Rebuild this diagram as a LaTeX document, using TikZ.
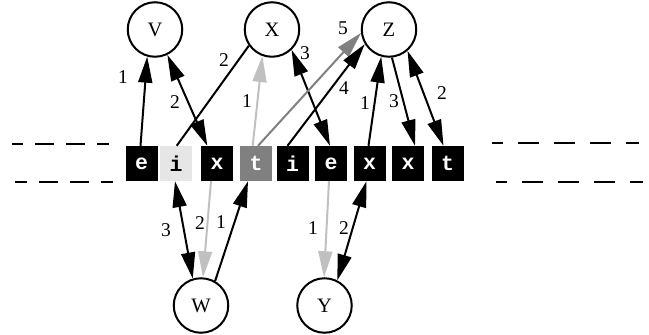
\documentclass[tikz,border=0pt]{standalone}
\usepackage{fontspec}
\setmainfont{Liberation Serif}
\newfontfamily\cellfont{Liberation Mono}
\usetikzlibrary{arrows.meta}
\definecolor{edgelight}{RGB}{192,192,192}
\definecolor{edgemid}{RGB}{128,128,128}
\definecolor{cellpale}{RGB}{230,230,230}
\definecolor{celldim}{RGB}{128,128,128}

\begin{document}
\begin{tikzpicture}[x=1pt,y=-1pt,
  >={Triangle[length=26pt,width=14pt]},
  every node/.style={font=\fontsize{19.5}{19.5}\selectfont},
  var/.style={circle,draw,line width=2pt,minimum size=54.5pt,inner sep=0pt,
    font=\fontsize{20.5}{20.5}\selectfont},
  cell/.style={fill=black,text=white,minimum width=32pt,minimum height=35pt,
    inner sep=0pt,font=\cellfont\bfseries\fontsize{21.5}{21.5}\selectfont},
  pale/.style={cell,fill=cellpale,text=black},
  dim/.style={cell,fill=celldim,text=white},
  lbl/.style={inner sep=0pt},
  link/.style={line width=2pt},
  rule/.style={line width=2pt}]

\useasboundingbox (0,0) rectangle (649,335);

% track boundaries
\draw[rule,dash pattern=on 19pt off 12pt,dash phase=8pt] (12,144) -- (109,144);
\draw[rule,dash pattern=on 19pt off 12pt,dash phase=7pt] (15,182) -- (113,182);
\draw[rule,dash pattern=on 21pt off 15pt,dash phase=10pt] (492,143) -- (639,143);
\draw[rule,dash pattern=on 21pt off 15pt,dash phase=10pt] (496,182) -- (643,182);

% sequence cells
\node[cell] (e1) at (141.5,163.5) {e};
\node[pale] (i1) at (176,163.5) {i};
\node[cell] (x1) at (217,163.5) {x};
\node[dim]  (t1) at (256,163.5) {t};
\node[cell] (i2) at (292.5,163.5) {i};
\node[cell] (e2) at (331,163.5) {e};
\node[cell] (x2) at (369.5,163.5) {x};
\node[cell] (x3) at (408,163.5) {x};
\node[cell] (t2) at (447.5,163.5) {t};

% variables
\node[var] (V) at (155,29.5) {V};
\node[var] (X) at (272,29.5) {X};
\node[var] (Z) at (389,29.5) {Z};
\node[var] (W) at (201,305.5) {W};
\node[var] (Y) at (324.5,305.5) {Y};

% links to the upper variables
\draw[link,->] ([xshift=-1pt]e1.north) -- (V.254);
\draw[link,<->] (V.296) -- ([xshift=-9.7pt]x1.north);
\draw[link] ([xshift=0.7pt]i1.north) -- (X.215);
\draw[link,edgelight,->] ([xshift=-3.3pt]t1.north) -- (X.250);
\draw[link,<->] (X.314) -- ([xshift=-1pt]e2.north);
\draw[link,edgemid,->] ([xshift=2pt]t1.north) -- (Z.187);
\draw[link,->] ([xshift=-5pt]i2.north) -- (Z.211);
\draw[link,->] ([xshift=-1pt]x2.north) -- (Z.254);
\draw[link,->] (Z.276) -- ([xshift=7pt]x3.north);
\draw[link,<->] (Z.311) -- ([xshift=-4pt]t2.north);

% links to the lower variables
\draw[link,<->] ([xshift=-1pt]i1.south) -- (W.107);
\draw[link,edgelight,->] ([xshift=-6pt]x1.south) -- (W.86);
\draw[link,->] (W.60) -- ([xshift=-8pt]t1.south);
\draw[link,edgelight,->] ([xshift=-2pt]e2.south) -- (Y.91);
\draw[link,<->] ([xshift=-3pt]x2.south) -- (Y.63);

% link labels
\node[lbl] (l1) at (123,77) {1};
\node[lbl] (l2) at (175,102) {2};
\node[lbl] (l3) at (224,60) {2};
\node[lbl] (l4) at (247,101) {1};
\node[lbl] (l5) at (305,53) {3};
\node[lbl] (l6) at (343,28) {5};
\node[lbl] (l7) at (344,88) {4};
\node[lbl] (l8) at (365,103) {1};
\node[lbl] (l9) at (394,101) {3};
\node[lbl] (l10) at (442,93) {2};
\node[lbl] (l11) at (166,230) {3};
\node[lbl] (l12) at (200,223) {2};
\node[lbl] (l13) at (221,222) {1};
\node[lbl] (l14) at (313,228) {1};
\node[lbl] (l15) at (344,228) {2};
\end{tikzpicture}
\end{document}
